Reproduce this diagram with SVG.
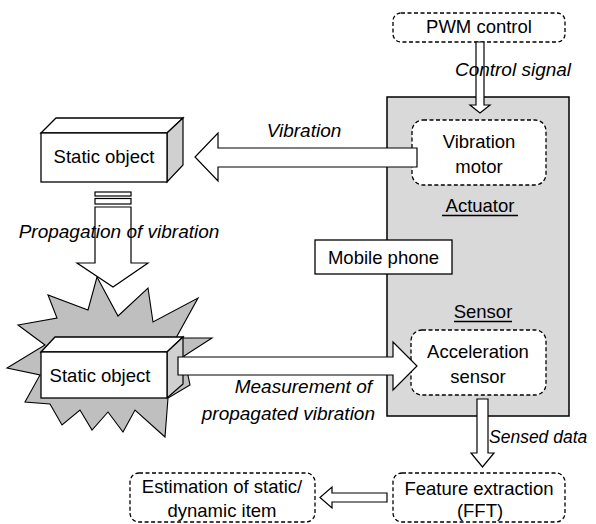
<svg xmlns="http://www.w3.org/2000/svg" width="596" height="524" viewBox="0 0 596 524">
  <style>
    .t { font-family: "Liberation Sans", Arial, sans-serif; font-size: 18.5px; fill: #000; }
    .i { font-family: "Liberation Sans", Arial, sans-serif; font-size: 19px; font-style: italic; fill: #000; }
    .m { text-anchor: middle; }
    .dash { fill: #fff; stroke: #000; stroke-width: 1.3; stroke-dasharray: 4 2.5; }
    .solid { fill: #fff; stroke: #000; stroke-width: 1.3; }
    .arrow { fill: #fff; stroke: #000; stroke-width: 1.2; stroke-linejoin: miter; }
    .side { fill: #d0d0d0; stroke: #000; stroke-width: 1.2; }
    .u { stroke: #000; stroke-width: 1.3; }
  </style>
  <rect width="596" height="524" fill="#fff"/>

  <!-- Mobile phone body -->
  <g id="phone">
    <rect x="387" y="97" width="182" height="319" fill="#d9d9d9" stroke="#000" stroke-width="1.5"/>
    <text class="t m" x="480" y="212">Actuator</text>
    <line class="u" x1="442" y1="215.5" x2="518" y2="215.5"/>
    <text class="t m" x="483" y="318">Sensor</text>
    <line class="u" x1="454" y1="321.5" x2="512" y2="321.5"/>
  </g>

  <g id="phone-label">
    <rect class="solid" x="315" y="240" width="137" height="34"/>
    <text class="t m" x="383.5" y="264">Mobile phone</text>
  </g>

  <g id="pwm">
    <rect class="dash" x="393" y="13" width="172" height="29" rx="8"/>
    <text class="t m" x="479" y="33">PWM control</text>
  </g>

  <g id="motor">
    <rect class="dash" x="412" y="120" width="134" height="65" rx="11"/>
    <text class="t m" x="479" y="148">Vibration</text>
    <text class="t m" x="479" y="173">motor</text>
  </g>

  <g id="accel">
    <rect class="dash" x="411" y="330" width="135" height="65" rx="11"/>
    <text class="t m" x="478" y="358">Acceleration</text>
    <text class="t m" x="478" y="383">sensor</text>
  </g>

  <g id="fft">
    <rect class="dash" x="393" y="473" width="172" height="49" rx="9"/>
    <text class="t m" x="479" y="495">Feature extraction</text>
    <text class="t m" x="480" y="517">(FFT)</text>
  </g>

  <g id="estimate">
    <rect class="dash" x="130" y="473" width="185" height="49" rx="9"/>
    <text class="t m" x="222" y="493">Estimation of static/</text>
    <text class="t m" x="222" y="517">dynamic item</text>
  </g>

  <!-- Vibrated object with burst -->
  <g id="object-bottom">
    <polygon points="97,277 118,316 148,288 153,322 198,298 176,338 212,338 184,356 190,385 168,398 165,437 135,410 123,432 108,412 92,430 80,410 62,425 50,404 25,402 40,375 7,368 45,345 18,325 57,318 48,295 88,310" fill="#bfbfbf" stroke="#000" stroke-width="1.1" stroke-linejoin="miter"/>
    <polygon class="solid" points="41,352 55,337 183,337 167,352"/>
    <polygon class="side" points="167,352 183,337 183,384 167,398"/>
    <rect class="solid" x="41" y="352" width="126" height="46"/>
    <text class="t m" x="100" y="382">Static object</text>
  </g>

  <g id="object-top">
    <polygon class="solid" points="41,133 56,118 183,118 167,133"/>
    <polygon class="side" points="167,133 183,118 183,165 167,182"/>
    <rect class="solid" x="41" y="133" width="126" height="49"/>
    <text class="t m" x="104" y="163">Static object</text>
  </g>

  <!-- Block arrows between stages -->
  <g id="connectors">
    <polygon class="arrow" points="476,42 484,42 484,105 490,105 480,113 470,105 476,105"/>
    <polygon class="arrow" points="417,148 417,167 218,167 218,181 195,157 218,133 218,148"/>
    <rect class="arrow" x="95" y="192" width="36" height="4"/>
    <rect class="arrow" x="95" y="198.5" width="36" height="5.5"/>
    <polygon class="arrow" points="95,207 131,207 131,263 148,263 113,287 77,263 95,263"/>
    <polygon class="arrow" points="178,357 393,357 393,342 417,366 393,390 393,375 178,375"/>
    <polygon class="arrow" points="477,399 488,399 488,453 494,453 482.5,467 471,453 477,453"/>
    <polygon class="arrow" points="387,493 387,502 332,502 332,508 320,497.5 332,487 332,493"/>
  </g>

  <g id="labels">
    <text class="i m" x="513" y="76">Control signal</text>
    <text class="i m" x="304" y="137">Vibration</text>
    <text class="i m" x="119" y="238">Propagation of vibration</text>
    <text class="i" x="372" y="393" text-anchor="end">Measurement of</text>
    <text class="i" x="375" y="420" text-anchor="end">propagated vibration</text>
    <text class="i" x="489" y="443" style="font-size:17.5px">Sensed data</text>
  </g>
</svg>
